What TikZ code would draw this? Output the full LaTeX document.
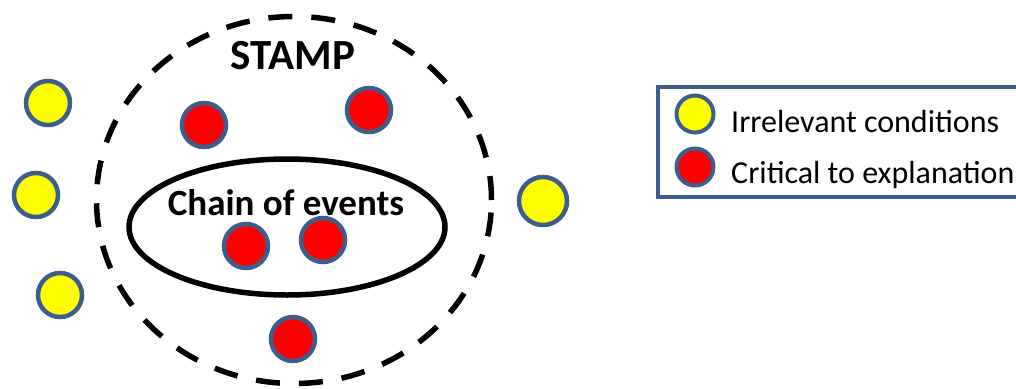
\documentclass[tikz,border=0pt]{standalone}
\usepackage{fontspec}
\setmainfont{Carlito}
\usetikzlibrary{shapes.geometric}
\definecolor{rim}{RGB}{60,94,140}
\definecolor{yel}{RGB}{255,255,0}
\definecolor{rd}{RGB}{255,0,0}
\begin{document}
\begin{tikzpicture}[x=1pt,y=-1pt,
  dot/.style={circle,draw=rim,line width=4.5pt,minimum size=44pt,inner sep=0pt},
  irr/.style={dot,fill=yel},
  crit/.style={dot,fill=rd},
  ldot/.style={circle,draw=rim,line width=4pt,minimum size=37pt,inner sep=0pt},
  lbl/.style={anchor=base west,inner sep=0pt,font=\fontsize{32}{36}\selectfont}]
\useasboundingbox (0,0) rectangle (1016,388);
% outer dashed ellipse
\node[ellipse,draw,line width=5.5pt,dash pattern=on 24pt off 19pt,minimum width=395pt,minimum height=367pt] (stamp) at (294,200) {};
\node[font=\bfseries\fontsize{43}{48}\selectfont,inner sep=0pt] (stamplbl) at (293,56) {STAMP};
% inner solid ellipse
\node[ellipse,draw,line width=5.5pt,minimum width=316pt,minimum height=136pt] (chain) at (287,227) {};
\node[font=\bfseries\fontsize{37}{42}\selectfont,inner sep=0pt,anchor=base] (chainlbl) at (286,215) {Chain of events};
% irrelevant
\node[irr] (y1) at (48,103) {};
\node[irr] (y2) at (36,195) {};
\node[irr] (y3) at (60,295) {};
\node[irr,minimum size=48pt] (y4) at (543,201) {};
% critical
\node[crit] (r1) at (204,125) {};
\node[crit] (r2) at (369,110) {};
\node[crit] (r3) at (246,246) {};
\node[crit] (r4) at (323,240) {};
\node[crit] (r5) at (293,339) {};
% legend
\draw[rim,line width=4pt] (658,87) rectangle (1030,197);
\node[ldot,fill=yel] (ly) at (695,114) {};
\node[ldot,fill=rd] (lr) at (695,167) {};
\node[lbl] (lyt) at (731,132) {Irrelevant conditions};
\node[lbl] (lrt) at (731,183) {Critical to explanation};
\end{tikzpicture}
\end{document}
